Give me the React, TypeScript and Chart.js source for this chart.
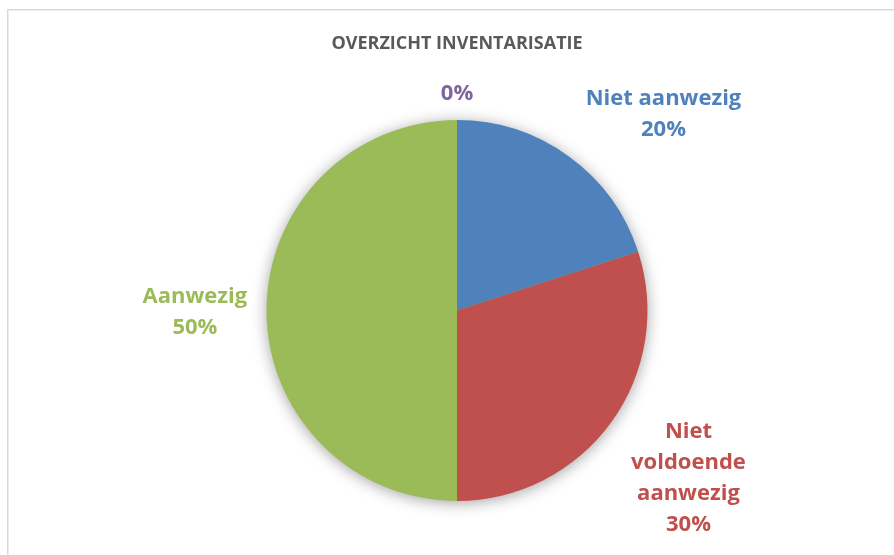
import React, { useEffect, useRef } from "react";
import { Chart, registerables } from "chart.js";

Chart.register(...registerables);

const categories = ["Niet aanwezig", "Niet voldoende aanwezig", "Aanwezig", ""];
const values = [20, 30, 50, 0];
const labelLines = [["Niet aanwezig"], ["Niet", "voldoende", "aanwezig"], ["Aanwezig"], []];
const colors = ["#4F81BD", "#C0504D", "#9BBB59", "#8064A2"];
const textColors = ["#4F81BD", "#C0504D", "#9BBB59", "#8064A2"];
// label anchor offsets, in units of the pie radius, from the pie centre
const labelOffsetX = [1.084, 1.215, -1.376, 0.0];
const labelOffsetY = [-1.03, 0.88, 0.01, -1.14];
const titleText = "OVERZICHT INVENTARISATIE";

const LABEL_FONT = "'Open Sans', Lato, sans-serif";
const TITLE_FONT = "'Open Sans', Lato, sans-serif";

const shadowPlugin = {
  id: "pieShadow",
  beforeDatasetsDraw(chart: any) {
    const meta = chart.getDatasetMeta(0);
    const arc = meta.data[0];
    if (!arc) return;
    const { x, y, outerRadius } = arc.getProps(["x", "y", "outerRadius"], true);
    const ctx = chart.ctx;
    ctx.save();
    ctx.shadowColor = "rgba(0,0,0,0.4)";
    ctx.shadowBlur = 16;
    ctx.shadowOffsetX = 0;
    ctx.shadowOffsetY = 2;
    ctx.fillStyle = "#9BBB59";
    ctx.beginPath();
    ctx.arc(x, y, outerRadius - 1, 0, Math.PI * 2);
    ctx.fill();
    ctx.restore();
  },
};

const labelPlugin = {
  id: "pieLabels",
  afterDatasetsDraw(chart: any) {
    const ctx = chart.ctx;
    const meta = chart.getDatasetMeta(0);
    const data = chart.data.datasets[0].data as number[];
    const total = data.reduce((a: number, b: number) => a + b, 0);
    ctx.save();
    ctx.textAlign = "center";
    ctx.textBaseline = "middle";
    ctx.font = `bold 22px ${LABEL_FONT}`;
    const lh = 31;
    let cxTitle = chart.width / 2;
    meta.data.forEach((arc: any, i: number) => {
      const { x, y, outerRadius } = arc.getProps(["x", "y", "outerRadius"], true);
      cxTitle = x;
      const pct = Math.round((data[i] / total) * 100) + "%";
      const lines = [...labelLines[i], pct];
      const cx = x + labelOffsetX[i] * outerRadius;
      const cy = y + labelOffsetY[i] * outerRadius;
      ctx.fillStyle = textColors[i];
      const startY = cy - ((lines.length - 1) * lh) / 2;
      lines.forEach((ln, k) => ctx.fillText(ln, cx, startY + k * lh));
    });
    ctx.fillStyle = "#595959";
    ctx.font = `bold 18px ${TITLE_FONT}`;
    ctx.fillText(titleText, cxTitle, 44);
    ctx.restore();
  },
};

export default function App() {
  const ref = useRef<HTMLCanvasElement>(null);
  useEffect(() => {
    if (!ref.current) return;
    const chart = new Chart(ref.current, {
      type: "pie",
      data: {
        labels: categories,
        datasets: [
          {
            data: values,
            backgroundColor: colors,
            borderWidth: 0,
          },
        ],
      },
      options: {
        animation: false,
        responsive: false,
        layout: { padding: { top: 120, bottom: 54, left: 20, right: 0 } },
        plugins: {
          legend: { display: false },
          title: { display: false },
          tooltip: { enabled: false },
        },
      },
      plugins: [shadowPlugin, labelPlugin],
    });
    return () => chart.destroy();
  }, []);
  return (
    <div style={{ position: "fixed", left: 0, top: 0, width: 894, height: 555, background: "#fff", overflow: "hidden" }}>
      <div
        style={{
          position: "absolute",
          left: 7,
          top: 9,
          width: 1000,
          height: 1000,
          border: "1px solid #d9d9d9",
          boxShadow: "inset 1px 1px 0 #ececec",
        }}
      />
      <canvas ref={ref} width={894} height={555} style={{ position: "absolute", left: 0, top: 0 }} />
    </div>
  );
}
